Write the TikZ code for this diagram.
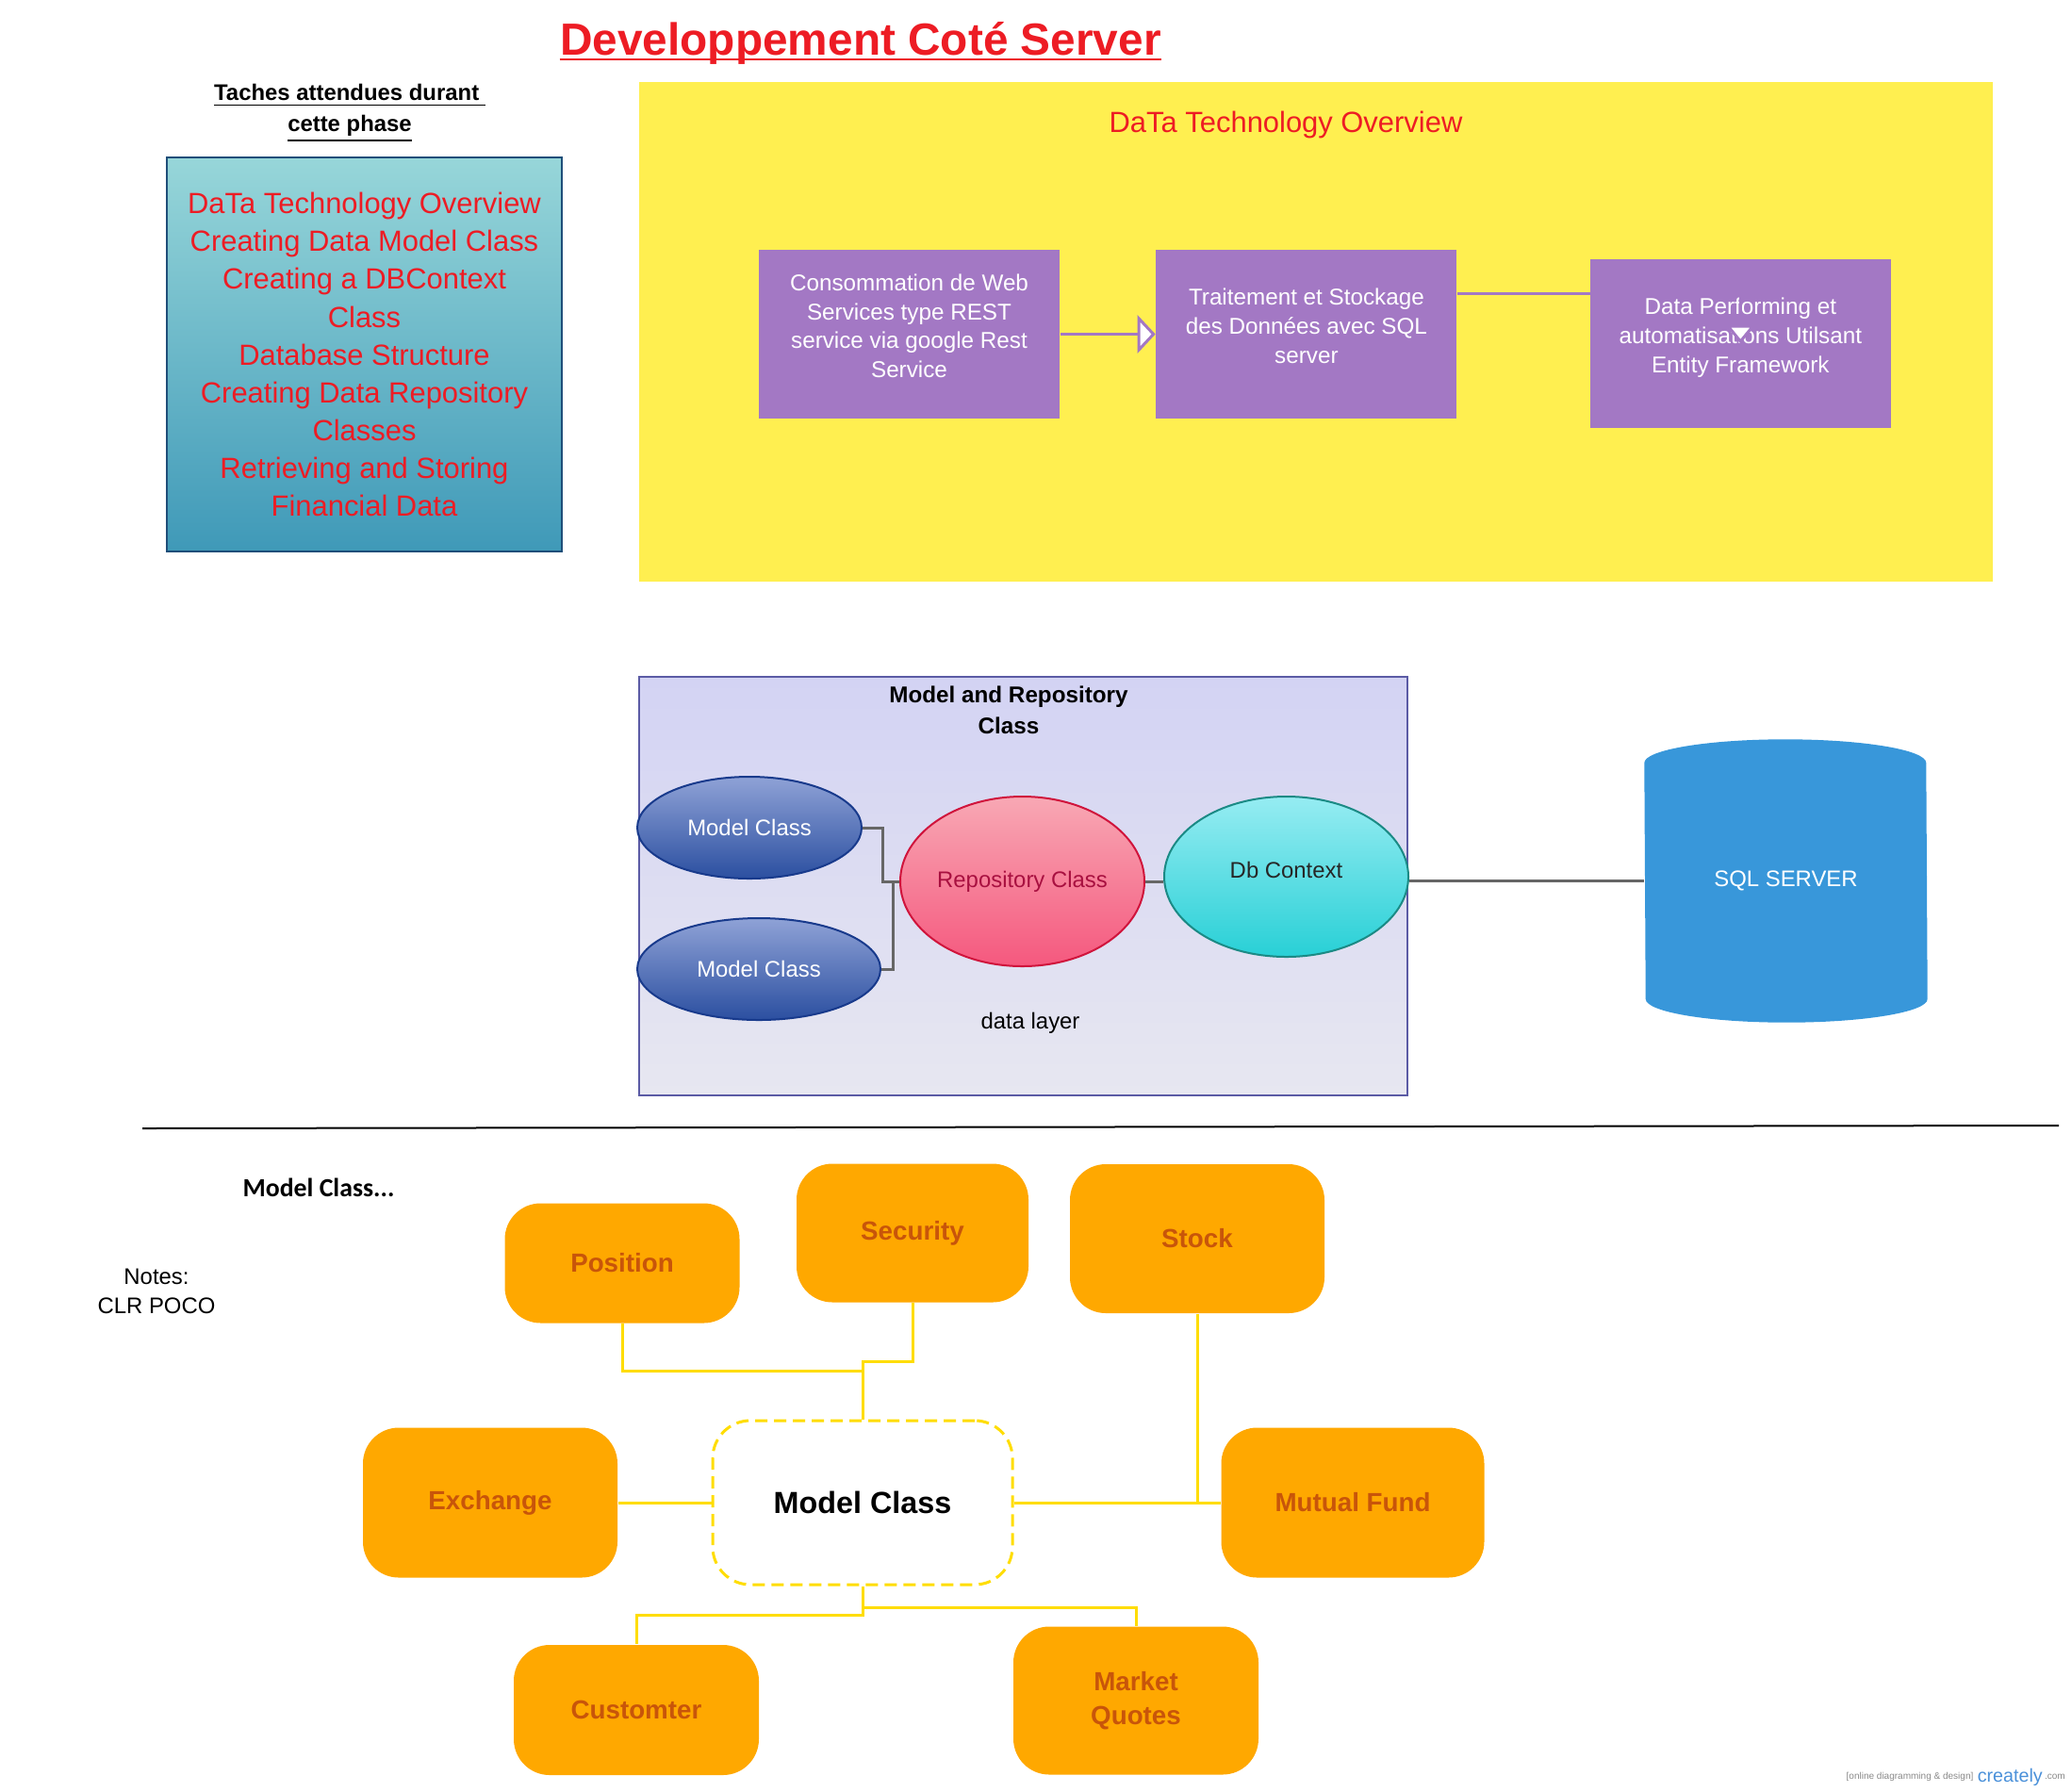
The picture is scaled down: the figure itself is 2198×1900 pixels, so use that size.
\documentclass[tikz,border=0pt]{standalone}
\usepackage{fontspec}
\setmainfont{Liberation Sans}
\newfontfamily\calfont{Carlito}
\usetikzlibrary{shapes.geometric,arrows.meta,positioning,backgrounds}

\definecolor{titlered}{HTML}{ED1C24}
\definecolor{tealtop}{HTML}{97D6D9}
\definecolor{tealbot}{HTML}{3F99B8}
\definecolor{tealedge}{HTML}{1F4E79}
\definecolor{techyellow}{HTML}{FFEF50}
\definecolor{techpurple}{HTML}{A378C4}
\definecolor{lavtop}{HTML}{D3D3F3}
\definecolor{lavbot}{HTML}{E7E7F1}
\definecolor{lavedge}{HTML}{5B5BA5}
\definecolor{mctop}{HTML}{8FA2D6}
\definecolor{mcbot}{HTML}{2B4FA0}
\definecolor{mcedge}{HTML}{183A8C}
\definecolor{repotop}{HTML}{F8A8B4}
\definecolor{repobot}{HTML}{F5587E}
\definecolor{repoedge}{HTML}{D0143C}
\definecolor{repotext}{HTML}{A81040}
\definecolor{dbtop}{HTML}{96ECF2}
\definecolor{dbbot}{HTML}{28D0D6}
\definecolor{dbedge}{HTML}{1B8A85}
\definecolor{sqlblue}{HTML}{3897DA}
\definecolor{wiregray}{HTML}{666666}
\definecolor{entorange}{HTML}{FFA800}
\definecolor{enttext}{HTML}{C8550A}
\definecolor{entlink}{HTML}{FFDD00}
\definecolor{wmgray}{HTML}{8A8A8A}
\definecolor{wmblue}{HTML}{4A90D9}

\begin{document}
\begin{tikzpicture}[
  x = 0.1mm, y = -0.1mm,
  every node/.style = {font=\fontsize{6.8}{8.8}\selectfont},
  task/.style     = {rectangle, draw=tealedge, line width=0.25mm,
                     top color=tealtop, bottom color=tealbot,
                     minimum width=41.9mm, minimum height=41.8mm,
                     align=center, text=titlered,
                     font=\fontsize{8.8}{11.4}\selectfont},
  overview/.style = {rectangle, fill=techyellow,
                     minimum width=143.6mm, minimum height=53mm},
  techbox/.style  = {rectangle, fill=techpurple, text=white, align=center,
                     minimum width=31.9mm, minimum height=17.9mm,
                     text depth=5pt, font=\fontsize{6.9}{8.8}\selectfont},
  flow/.style     = {draw=techpurple, line width=0.3mm},
  layerbox/.style = {rectangle, draw=lavedge, line width=0.2mm,
                     top color=lavtop, bottom color=lavbot,
                     minimum width=81.5mm, minimum height=44.4mm},
  mcnode/.style   = {ellipse, draw=mcedge, line width=0.2mm,
                     top color=mctop, bottom color=mcbot, text=white,
                     minimum height=10.8mm, inner sep=0pt},
  reponode/.style = {ellipse, draw=repoedge, line width=0.2mm,
                     top color=repotop, bottom color=repobot, text=repotext,
                     minimum width=25.9mm, minimum height=18mm, inner sep=0pt},
  dbnode/.style   = {ellipse, draw=dbedge, line width=0.2mm,
                     top color=dbtop, bottom color=dbbot, text=black!85,
                     minimum width=25.9mm, minimum height=17mm, inner sep=0pt},
  wire/.style     = {draw=wiregray, line width=0.3mm},
  entity/.style   = {rectangle, rounded corners=3.8mm, fill=entorange,
                     text=enttext, align=center,
                     font=\bfseries\fontsize{7.9}{10.2}\selectfont},
  hub/.style      = {rectangle, rounded corners=4mm, draw=entlink,
                     dash pattern=on 1.3mm off 0.7mm, line width=0.3mm,
                     fill=white, minimum width=31.8mm, minimum height=17.4mm,
                     font=\bfseries\fontsize{9.2}{11}\selectfont},
  link/.style     = {draw=entlink, line width=0.3mm},
]
\useasboundingbox (0,0) rectangle (2198,1900);

% ── Headings ─────────────────────────────────────────────────
\node[text=titlered, font=\bfseries\fontsize{13.6}{16}\selectfont,
      inner sep=0pt, anchor=base] (title) at (913,58) {Developpement Coté Server};
\draw[titlered, line width=0.2mm]
  ([yshift=-0.5mm]title.base west) -- ([yshift=-0.5mm]title.base east);
\node[align=center, font=\bfseries\fontsize{6.8}{9.4}\selectfont]
  (taskhead) at (371,120) {\underline{Taches attendues durant~}\\\underline{cette phase}};

% ── Task list ────────────────────────────────────────────────
\node[task] (tasks) at (386.5,376)
  {DaTa Technology Overview\\Creating Data Model Class\\Creating a DBContext\\Class\\
   Database Structure\\Creating Data Repository\\Classes\\Retrieving and Storing\\Financial Data};

% ── Technology overview ──────────────────────────────────────
\node[overview] (overview) at (1396,352) {};
\node[text=titlered, font=\fontsize{8.8}{11}\selectfont] (ovtitle) at (1364,132)
  {DaTa Technology Overview};
\node[techbox] (rest) at (964.5,354.5)
  {Consommation de Web\\Services type REST\\service via google Rest\\Service};
\node[techbox, right=10.1mm of rest] (store)
  {Traitement et Stockage\\des Données avec SQL\\server};
\node[techbox, right=14mm of store, yshift=-1mm] (perf)
  {Data Performing et\\automatisations Utilsant\\Entity Framework};

\draw[flow, -{Triangle[length=1.9mm, width=4mm, fill=white]}] (rest) -- (store);
\draw[flow, -{Triangle[length=2mm, width=3.2mm, fill=white]}]
  ([yshift=4.35mm]store.east) -| (perf.center);

% ── Data layer ───────────────────────────────────────────────
\node[layerbox] (layer) at (1085.5,940) {};
\node[align=center, font=\bfseries\fontsize{6.9}{9.4}\selectfont] (layertitle)
  at (1070,753) {Model and Repository\\Class};
\node (layerlabel) at (1093,1085) {data layer};

\node[mcnode, minimum width=23.8mm] (model1) at (795,878)  {Model Class};
\node[mcnode, minimum width=25.8mm] (model2) at (805,1028) {Model Class};
\node[reponode] (repo)  at (1084.5,935) {Repository Class};
\node[dbnode, text depth=4pt] (dbctx) at (1364.5,930) {Db Context};

\node[text=white, minimum width=29.9mm, minimum height=29.9mm, inner sep=0pt]
  (sql) at (1894.5,934.5) {SQL SERVER};
\begin{scope}[on background layer]
  \fill[sqlblue] ([yshift=-2.5mm]sql.north west)
    arc[start angle=180, end angle=0, x radius=14.95mm, y radius=2.5mm]
    -- ([yshift=2.5mm]sql.south east)
    arc[start angle=0, end angle=-180, x radius=14.95mm, y radius=2.5mm] -- cycle;
\end{scope}

\draw[wire] (model1.east) -- ++(2.1mm,0) |- (repo.west);
\draw[wire] (model2.east) -- ++(1.2mm,0) |- (repo.west);
\draw[wire] (repo.east) -- (repo.east -| dbctx.west);
\draw[wire] (dbctx.east |- sql.west) -- (sql.west);

% ── Divider ──────────────────────────────────────────────────
\draw[line width=0.2mm] (151,1197) -- (2184,1194);

% ── Model classes ────────────────────────────────────────────
\node[font=\calfont\bfseries\fontsize{7.9}{9}\selectfont] (modelhead) at (338,1260)
  {Model Class...};
\node[align=center] (notes) at (166,1370) {Notes:\\CLR POCO};

\node[hub] (hub) at (915,1594) {Model Class};
\node[entity, minimum width=24.9mm, minimum height=12.7mm] (position) at (660,1340)  {Position};
\node[entity, minimum width=24.6mm, minimum height=14.7mm] (security) at (968,1308)  {Security};
\node[entity, minimum width=27mm,   minimum height=15.8mm] (stock)    at (1270,1314) {Stock};
\node[entity, minimum width=27mm,   minimum height=15.9mm] (exchange) at (520,1594)  {Exchange};
\node[entity, minimum width=27.9mm, minimum height=15.9mm] (mutual)   at (1435,1594) {Mutual Fund};
\node[entity, minimum width=26mm,   minimum height=13.8mm] (customer) at (675,1814)  {Customter};
\node[entity, minimum width=26mm,   minimum height=15.7mm] (market)   at (1205,1804) {Market\\Quotes};

\coordinate (upjoin)  at (915,1444);
\coordinate (posjoin) at (915,1454);
\coordinate (lowjoin) at (915,1705);
\coordinate (cusjoin) at (915,1713);

\draw[link] (security.south) |- (upjoin) -- (hub.north);
\draw[link] (position.south) |- (posjoin);
\draw[link] (exchange.east) -- (hub.west);
\draw[link] (hub.east) -- (mutual.west);
\draw[link] (stock.south) -- (stock.south |- mutual.west);
\draw[link] (hub.south) -- (cusjoin) -| (customer.north);
\draw[link] (lowjoin) -| (market.north);

% ── Watermark ────────────────────────────────────────────────
\node[text=wmgray, font=\fontsize{2.85}{4}\selectfont, inner sep=0pt] (wmtag) at (2026,1885)
  {[online diagramming \& design]};
\node[text=wmblue, font=\fontsize{5.6}{7}\selectfont, inner sep=0pt, right=0.3mm of wmtag] (wmname)
  {creately};
\node[text=wmgray, font=\fontsize{2.85}{4}\selectfont, inner sep=0pt, right=0.1mm of wmname] (wmcom)
  {.com};

\end{tikzpicture}
\end{document}
